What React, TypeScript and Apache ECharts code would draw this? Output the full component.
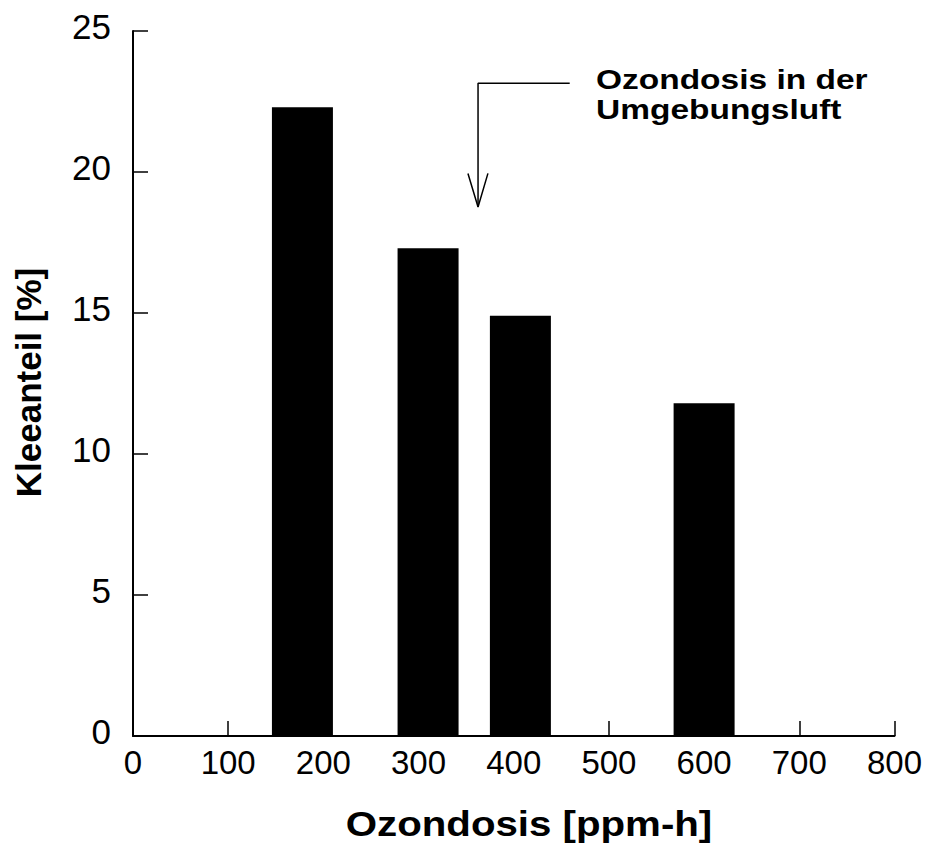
import React, { useEffect, useRef } from "react";
import * as echarts from "echarts";

// Data
const doseValues = [178, 310, 407, 600]; // Ozondosis [ppm-h]
const cloverShare = [22.3, 17.3, 14.9, 11.8]; // Kleeanteil [%]
const xTicks = { min: 0, max: 800, step: 100 };
const yTicks = { min: 0, max: 25, step: 5 };

// Annotation arrow (data coordinates)
const arrowShaft = [
  [458.8, 23.15],
  [362.5, 23.15],
  [362.5, 18.76],
];
const arrowHead = [
  [351.9, 19.95],
  [362.5, 18.76],
  [372.9, 19.95],
];

const xTitle = "Ozondosis [ppm-h]";
const yTitle = "Kleeanteil [%]";
const noteLines = ["Ozondosis in der", "Umgebungsluft"];

const FONT = "'Liberation Sans', Arial, Helvetica, sans-serif";

export default function App() {
  const ref = useRef<HTMLDivElement>(null);

  useEffect(() => {
    document.body.style.margin = "0";
    if (!ref.current) return;
    const chart = echarts.init(ref.current, undefined, { renderer: "svg" });

    const barData = doseValues.map((x, i) => [x, cloverShare[i]]);

    const axisCommon = {
      axisLine: { show: true, lineStyle: { color: "#000", width: 2 } },
      axisTick: { show: true, inside: true, length: 15, lineStyle: { color: "#000", width: 1.5 } },
      splitLine: { show: false },
    };

    const textEl = (
      text: string,
      x: number,
      y: number,
      fontSize: number,
      align: string,
      scaleX: number,
      rotation = 0
    ) => ({
      type: "text",
      x,
      y,
      rotation,
      scaleX,
      silent: true,
      style: {
        text,
        x: 0,
        y: 0,
        fill: "#000",
        fontSize,
        fontWeight: "bold",
        fontFamily: FONT,
        align,
        textAlign: align,
        verticalAlign: "middle",
        textVerticalAlign: "middle",
      },
    });

    chart.setOption({
      animation: false,
      backgroundColor: "#fff",
      grid: { left: 133, right: 30, top: 31, bottom: 107, containLabel: false },
      xAxis: {
        type: "value",
        min: xTicks.min,
        max: xTicks.max,
        interval: xTicks.step,
        ...axisCommon,
        axisLabel: {
          color: "#000",
          fontSize: 33,
          fontFamily: FONT,
          margin: 10,
        },
      },
      yAxis: {
        type: "value",
        min: yTicks.min,
        max: yTicks.max,
        interval: yTicks.step,
        ...axisCommon,
        axisLabel: {
          color: "#000",
          fontSize: 35,
          fontFamily: FONT,
          margin: 22,
          verticalAlign: "bottom",
          lineHeight: 10,
        },
      },
      series: [
        {
          type: "bar",
          data: barData,
          barWidth: 61,
          itemStyle: { color: "#000" },
          silent: true,
        },
        {
          type: "line",
          data: arrowShaft,
          symbol: "none",
          lineStyle: { color: "#000", width: 1.5 },
          silent: true,
        },
        {
          type: "line",
          data: arrowHead,
          symbol: "none",
          lineStyle: { color: "#000", width: 1.5 },
          silent: true,
        },
      ],
      graphic: [
        textEl(xTitle, 529, 823.5, 35, "center", 1.15),
        textEl(yTitle, 28.5, 382.5, 35, "center", 1, Math.PI / 2),
        textEl(noteLines[0], 596, 79, 27, "left", 1.24),
        textEl(noteLines[1], 596, 109, 27, "left", 1.24),
      ],
    });

    return () => chart.dispose();
  }, []);

  return <div ref={ref} style={{ width: 925, height: 843 }} />;
}
